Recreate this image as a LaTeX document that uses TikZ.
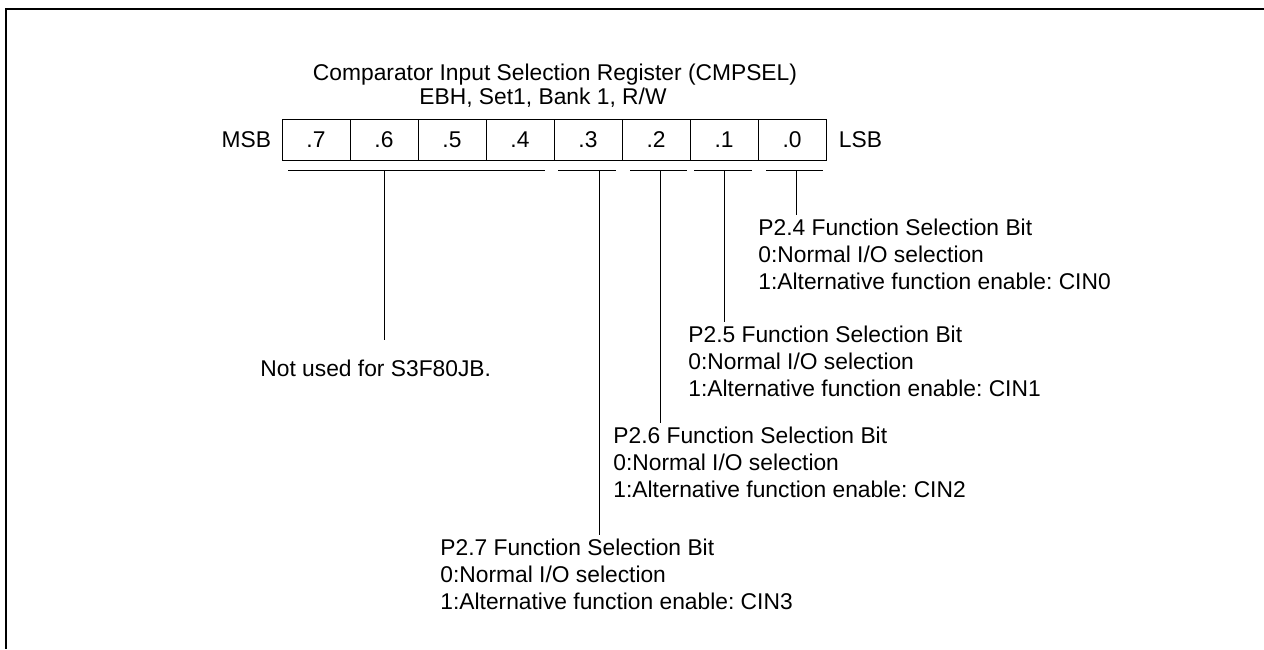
\documentclass[tikz,border=0pt]{standalone}
\usepackage{fontspec}
\setmainfont{Liberation Sans}
\usetikzlibrary{positioning}
\frenchspacing

\begin{document}
\begin{tikzpicture}[x=0.5pt, y=-0.5pt,
    every node/.style={font=\fontsize{11.4}{13.3}\selectfont},
    cell/.style={draw, line width=0.5pt, minimum width=34pt, minimum height=20.5pt, inner sep=0pt},
    desc/.style={anchor=north west, align=left, inner xsep=0pt, inner ysep=2pt},
    reg line/.style={line width=0.5pt}]
    % Define register geometry
    \def\cellW{68}
    \def\cellY{139.5}

    % Fix picture size
    \useasboundingbox (0,0) rectangle (1264,649);

    % Draw frame
    \draw[line width=1pt] (1264,9) -- (6,9) -- (6,649);

    % Title
    \node[anchor=base] (title) at (555,80) {Comparator Input Selection Register (CMPSEL)};
    \node[anchor=base] (addr) at (543,104) {EBH, Set1, Bank 1, R/W};

    % Draw register cells
    \foreach \b [count=\i from 0] in {7,...,0}
        \node[cell] (b\b) at ({316+\cellW*\i},\cellY) {.\b};
    \node[left=5pt of b7, inner sep=0pt] (msb) {MSB};
    \node[right=6pt of b0, inner sep=0pt] (lsb) {LSB};

    % Draw bit group brackets
    \draw[reg line] (288,170) -- (545,170);
    \draw[reg line] (558,170) -- (616,170);
    \draw[reg line] (630,170) -- (687,170);
    \draw[reg line] (694,170) -- (752,170);
    \draw[reg line] (766,170) -- (823,170);
    \coordinate (t74) at (384,170);
    \coordinate (t3) at (599,170);
    \coordinate (t2) at (660,170);
    \coordinate (t1) at (724,170);
    \coordinate (t0) at (796,170);

    % Bit descriptions
    \node[desc, inner ysep=10pt] (nu) at (260,340) {Not used for S3F80JB.};
    \node[desc] (d0) at (758,215) {P2.4 Function Selection Bit\\0:Normal I/O selection\\1:Alternative function enable: CIN0};
    \node[desc] (d1) at (688,322) {P2.5 Function Selection Bit\\0:Normal I/O selection\\1:Alternative function enable: CIN1};
    \node[desc] (d2) at (613,423) {P2.6 Function Selection Bit\\0:Normal I/O selection\\1:Alternative function enable: CIN2};
    \node[desc] (d3) at (440,535) {P2.7 Function Selection Bit\\0:Normal I/O selection\\1:Alternative function enable: CIN3};

    % Connect brackets to descriptions
    \draw[reg line] (t74) -- (t74 |- nu.north);
    \draw[reg line] (t3) -- (t3 |- d3.north);
    \draw[reg line] (t2) -- (t2 |- d2.north);
    \draw[reg line] (t1) -- (t1 |- d1.north);
    \draw[reg line] (t0) -- (t0 |- d0.north);

\end{tikzpicture}
\end{document}
